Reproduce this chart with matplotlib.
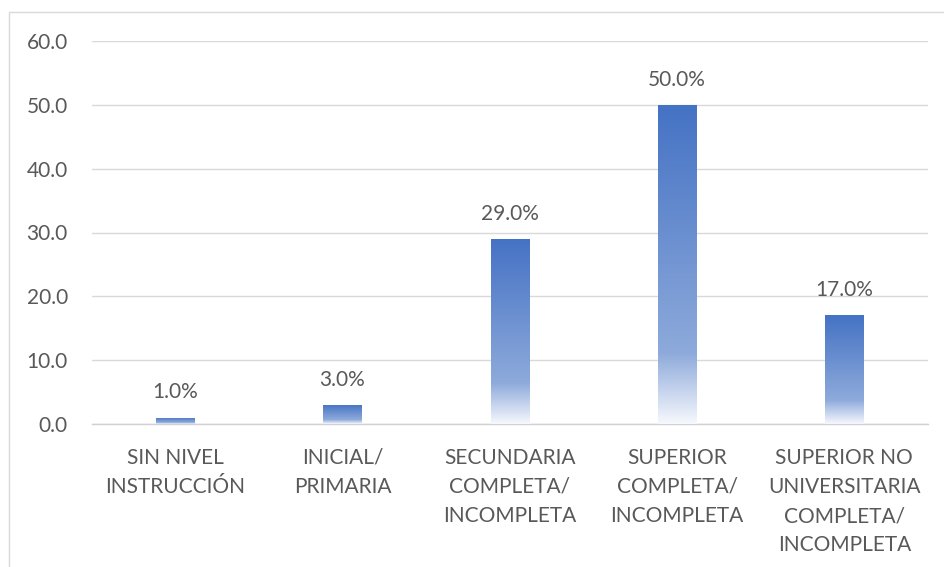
import numpy as np
import matplotlib.pyplot as plt
import matplotlib
from matplotlib.colors import LinearSegmentedColormap
from matplotlib.patches import Rectangle

plt.rcParams['font.family'] = ['Lato', 'DejaVu Sans']

categories = ["SIN NIVEL\nINSTRUCCIÓN", "INICIAL/\nPRIMARIA", "SECUNDARIA\nCOMPLETA/\nINCOMPLETA",
              "SUPERIOR\nCOMPLETA/\nINCOMPLETA", "SUPERIOR NO\nUNIVERSITARIA\nCOMPLETA/\nINCOMPLETA"]
values = [1.0, 3.0, 29.0, 50.0, 17.0]
yticks = [0, 10, 20, 30, 40, 50, 60]

text_color = "#595959"
font_size = 15

# gradient: bottom (0) -> top (1)
grad_cmap = LinearSegmentedColormap.from_list(
    "bar_grad", [(0.0, "#f6f8fd"), (0.22, "#8eaadb"), (1.0, "#4472c4")])

fig = plt.figure(figsize=(9.44, 5.67), dpi=100)
ax = fig.add_axes([91.5 / 944, 143 / 567, (928 - 91.5) / 944, (424 - 41) / 567])

# outer chart border
fig.patches.append(Rectangle((9 / 944, -0.01), 0.995, (567 - 12) / 567 + 0.01,
                             transform=fig.transFigure, fill=False,
                             edgecolor="#d9d9d9", linewidth=1.0))

x = np.arange(len(categories))
bar_width = 0.23
bars = ax.bar(x, values, width=bar_width, color="none", edgecolor="none", zorder=3)

grad = np.linspace(0, 1, 256).reshape(-1, 1)
for b in bars:
    x0, y0 = b.get_x(), b.get_y()
    w, h = b.get_width(), b.get_height()
    im = ax.imshow(grad, cmap=grad_cmap, aspect="auto", origin="lower",
                   extent=(x0, x0 + w, y0, y0 + h), zorder=3)
    im.set_clip_path(b)

for xi, v in zip(x, values):
    ax.annotate(f"{v:.1f}%", (xi, v), xytext=(0, 11), textcoords="offset points",
                ha="center", va="bottom", fontsize=font_size, color=text_color)

ax.set_xlim(-0.5, len(categories) - 0.5)
ax.set_ylim(0, 60)
ax.set_yticks(yticks)
ax.set_yticklabels([f"{t:.1f}" for t in yticks])
ax.set_xticks(x)
ax.set_xticklabels(categories, linespacing=1.58)

ax.grid(axis="y", color="#d9d9d9", linewidth=1.0, zorder=0)
ax.set_axisbelow(True)
for s in ["top", "right", "left"]:
    ax.spines[s].set_visible(False)
ax.spines["bottom"].set_color("#d0d0d0")
ax.spines["bottom"].set_linewidth(1.0)
ax.tick_params(axis="both", length=0, labelsize=font_size, colors=text_color)
ax.tick_params(axis="y", pad=17)
ax.tick_params(axis="x", pad=17)

fig.savefig("out.png", dpi=100)
